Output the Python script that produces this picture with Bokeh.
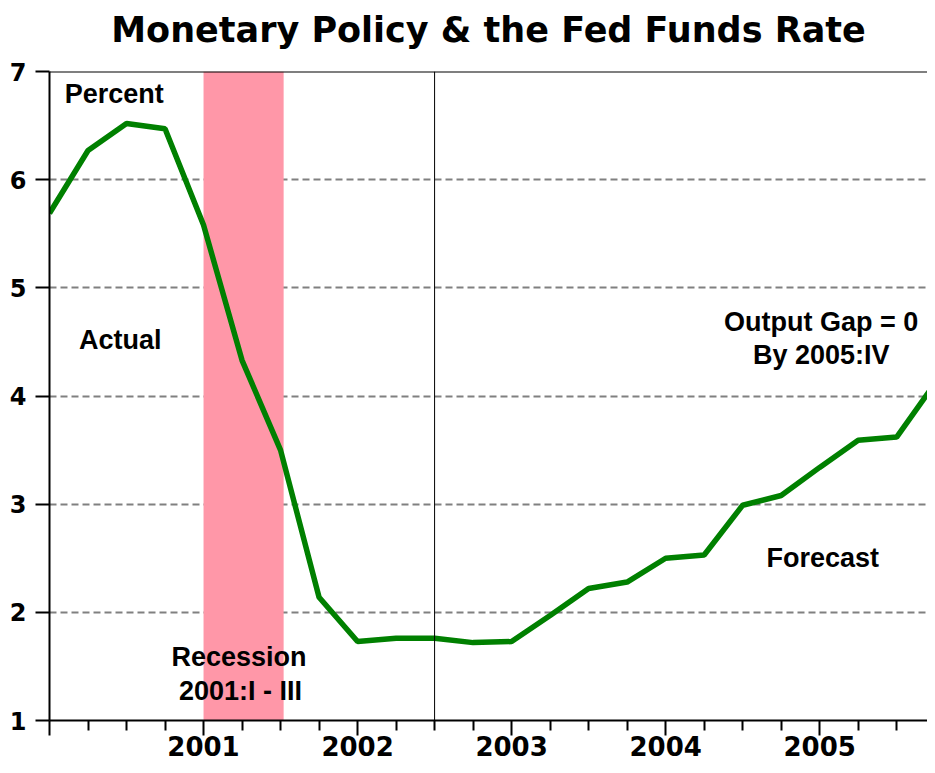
from bokeh.plotting import figure
from bokeh.models import Range1d, FixedTicker, Span, BoxAnnotation, Label, Title
from bokeh.embed import file_html
from bokeh.resources import INLINE

# Quarterly fed funds rate: actual 2000:I-2002:II, forecast afterwards
quarters = [2000.00, 2000.25, 2000.50, 2000.75,
            2001.00, 2001.25, 2001.50, 2001.75,
            2002.00, 2002.25, 2002.50, 2002.75,
            2003.00, 2003.25, 2003.50, 2003.75,
            2004.00, 2004.25, 2004.50, 2004.75,
            2005.00, 2005.25, 2005.50, 2005.75]
fed_funds = [5.69, 6.27, 6.52, 6.47,
             5.58, 4.33, 3.50, 2.14,
             1.73, 1.76, 1.76, 1.72,
             1.73, 1.97, 2.22, 2.28,
             2.50, 2.53, 2.99, 3.08,
             3.34, 3.59, 3.62, 4.12]
year_ticks = [2000, 2001, 2002, 2003, 2004, 2005]
quarter_ticks = [2000.25, 2000.5, 2000.75, 2001.25, 2001.5, 2001.75,
                 2002.25, 2002.5, 2002.75, 2003.25, 2003.5, 2003.75,
                 2004.25, 2004.5, 2004.75, 2005.25, 2005.5]
y_ticks = [1, 2, 3, 4, 5, 6, 7]
grid_levels = [2, 3, 4, 5, 6]
recession_start, recession_end = 2001.0, 2001.52
forecast_start = 2002.5
title_text = "Monetary Policy & the Fed Funds Rate"

FONT = "Liberation Sans"
TICKFONT = "DejaVu Sans"

p = figure(width=927, height=765, output_backend="svg", toolbar_location=None,
           x_range=Range1d(2000.0, 2005.70), y_range=Range1d(1, 7),
           min_border_left=49, min_border_right=0, min_border_top=71,
           min_border_bottom=45, outline_line_color=None, title=None)
p.background_fill_color = "white"
p.border_fill_color = "white"

# blank spacer title between the real title and the frame
p.add_layout(Title(text=" ", text_font_size="10px", standoff=7), "above")
p.add_layout(Title(text=title_text, align="center", text_font=TICKFONT,
                   text_font_size="35px", text_font_style="bold",
                   text_color="black", standoff=4), "above")

# recession band
p.add_layout(BoxAnnotation(left=recession_start, right=recession_end,
                           fill_color="#FF97A8", fill_alpha=1.0, line_color=None,
                           level="underlay"))

# axes
xa = p.below[0]
xa.ticker = FixedTicker(ticks=year_ticks, minor_ticks=quarter_ticks)
xa.major_label_overrides = {2000: ""}
xa.axis_line_width = 2
xa.axis_line_color = "black"
xa.major_tick_line_width = 2
xa.minor_tick_line_width = 2
xa.major_tick_in = 0
xa.major_tick_out = 15
xa.minor_tick_in = 0
xa.minor_tick_out = 10
xa.major_label_text_font = TICKFONT
xa.major_label_text_font_size = "26px"
xa.major_label_text_font_style = "bold"
xa.major_label_text_color = "black"
xa.major_label_standoff = 0

ya = p.yaxis[0]
ya.ticker = FixedTicker(ticks=y_ticks, minor_ticks=[])
ya.axis_line_width = 2
ya.axis_line_color = "black"
ya.major_tick_line_width = 2
ya.major_tick_in = 0
ya.major_tick_out = 14
ya.major_label_text_font = TICKFONT
ya.major_label_text_font_size = "24px"
ya.major_label_text_font_style = "bold"
ya.major_label_text_color = "black"
ya.major_label_standoff = 9

p.xgrid.grid_line_color = None
p.ygrid.ticker = FixedTicker(ticks=grid_levels)
p.ygrid.grid_line_color = "#808080"
p.ygrid.grid_line_width = 2
p.ygrid.grid_line_dash = "7 4"

# top border and forecast divider
p.add_layout(Span(location=7, dimension="width", line_color="black", line_width=2))
p.add_layout(Span(location=forecast_start, dimension="height", line_color="black",
                  line_width=1))

p.line(quarters, fed_funds, line_color="#008000", line_width=5.5)

def lab(x, y, t):
    p.add_layout(Label(x=x, y=y, text=t, text_align="center", text_baseline="middle",
                       text_font=FONT, text_font_size="27px", text_font_style="bold",
                       text_color="black"))

lab(2000.42, 6.79, "Percent")
lab(2000.46, 4.52, "Actual")
lab(2005.01, 4.68, "Output Gap = 0")
lab(2005.01, 4.38, "By 2005:IV")
lab(2005.02, 2.50, "Forecast")
lab(2001.23, 1.59, "Recession")
lab(2001.24, 1.27, "2001:I - III")

open("out.html", "w").write(file_html(p, INLINE))
